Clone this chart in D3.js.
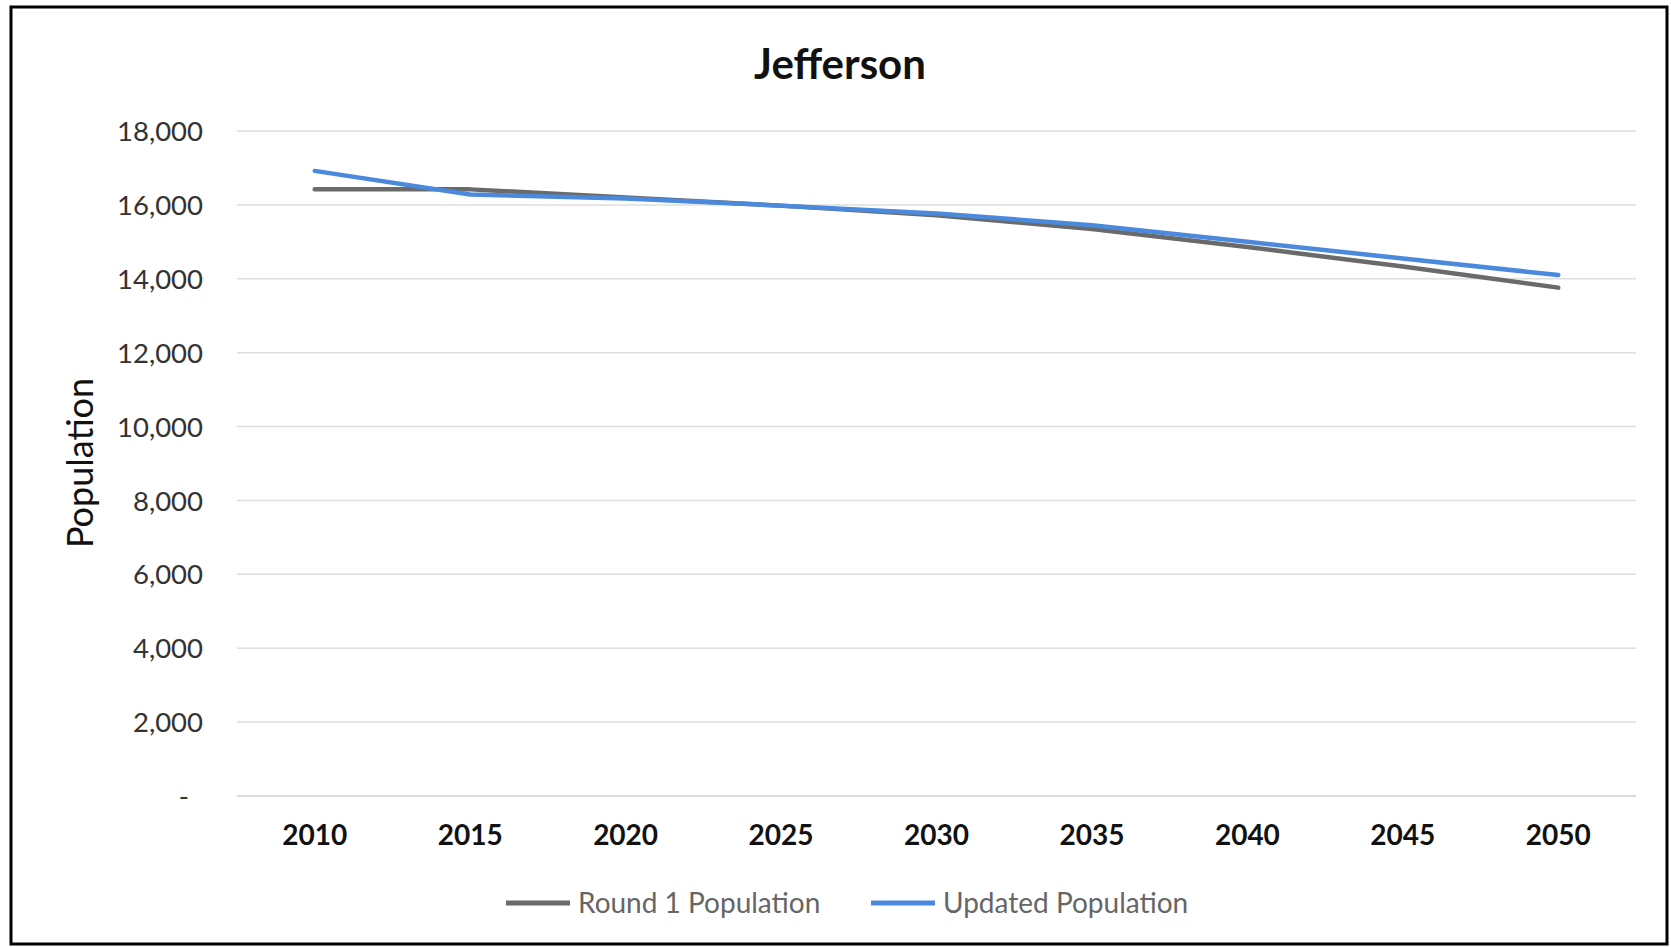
<!DOCTYPE html>
<html><head><meta charset="utf-8">
<script src="https://cdn.jsdelivr.net/npm/d3@7"></script>
<style>html,body{margin:0;padding:0;background:#fff;}svg{display:block;}</style>
</head><body>
<svg id="c" width="1671" height="947"></svg>
<script>
const years = ["2010","2015","2020","2025","2030","2035","2040","2045","2050"];
const round1 = [16420, 16420, 16200, 15980, 15720, 15350, 14860, 14330, 13760];
const updated = [16920, 16280, 16170, 15980, 15770, 15450, 15000, 14550, 14100];
const yTicks = [0, 2000, 4000, 6000, 8000, 10000, 12000, 14000, 16000, 18000];
const seriesNames = ["Round 1 Population", "Updated Population"];
const seriesColors = ["#6a6a6a", "#4a89dc"];
const title = "Jefferson";
const yTitle = "Population";

const svg = d3.select("#c");
const font = "Lato, 'Open Sans', sans-serif";

svg.append("rect").attr("x",11).attr("y",7).attr("width",1656).attr("height",937)
  .attr("fill","#fff").attr("stroke","#000").attr("stroke-width",3);

const x = d3.scaleBand().domain(years).range([237,1636]);
const y = d3.scaleLinear().domain([0,18000]).range([796,131]);

// gridlines
svg.append("g").selectAll("line").data(yTicks).join("line")
  .attr("x1",237).attr("x2",1636)
  .attr("y1",d=>y(d)).attr("y2",d=>y(d))
  .attr("stroke",d=>d===0?"#cfcfcf":"#dedede").attr("stroke-width",1.5);

// y axis
const yAxis = d3.axisLeft(y).tickValues(yTicks).tickSize(0).tickPadding(0)
  .tickFormat(d=> d===0 ? "-" : d3.format(",")(d));
const gy = svg.append("g").attr("transform","translate(203,0)").call(yAxis);
gy.select(".domain").remove();
gy.selectAll("text").attr("font-family",font).attr("font-size",27.5).attr("fill","#333")
  .attr("dy","0.35em");
gy.selectAll(".tick").filter(d=>d===0).select("text").attr("dx",-14);

// x axis
const xAxis = d3.axisBottom(x).tickSize(0).tickPadding(0);
const gx = svg.append("g").attr("transform","translate(0,835)").call(xAxis);
gx.select(".domain").remove();
gx.selectAll("text").attr("font-family",font).attr("font-size",28).attr("font-weight","bold")
  .attr("fill","#111").attr("dy","0.35em");

// lines
const line = d3.line().x((d,i)=>x(years[i])+x.bandwidth()/2).y(d=>y(d));
[round1, updated].forEach((s,k)=>{
  svg.append("path").datum(s).attr("d",line).attr("fill","none")
    .attr("stroke",seriesColors[k]).attr("stroke-width",4.5)
    .attr("stroke-linejoin","round").attr("stroke-linecap","round");
});

// title
svg.append("text").attr("x",840).attr("y",64).attr("text-anchor","middle")
  .attr("dy","0.35em").attr("font-family",font).attr("font-weight","bold")
  .attr("font-size",42).attr("fill","#111").text(title);

// y title
svg.append("text").attr("transform","translate(80,463) rotate(-90)")
  .attr("text-anchor","middle").attr("dy","0.35em").attr("font-family",font)
  .attr("font-size",36).attr("fill","#111").text(yTitle);

// legend
const legX = [506, 871];
seriesNames.forEach((n,k)=>{
  svg.append("line").attr("x1",legX[k]).attr("x2",legX[k]+64).attr("y1",903).attr("y2",903)
    .attr("stroke",seriesColors[k]).attr("stroke-width",5);
  svg.append("text").attr("x",legX[k]+72).attr("y",903).attr("dy","0.35em")
    .attr("font-family",font).attr("font-size",28).attr("fill","#666").text(n);
});
</script>
</body></html>
